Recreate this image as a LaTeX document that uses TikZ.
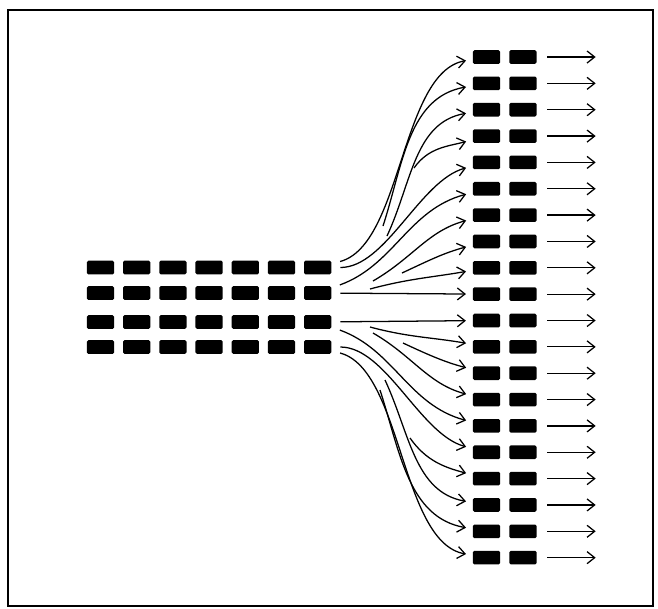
\documentclass[tikz,border=0pt]{standalone}
\usetikzlibrary{arrows.meta,positioning}

\begin{document}
\begin{tikzpicture}[x=0.025cm, y=-0.025cm, line width=0.9pt,
    >={Straight Barb[length=1.9mm,width=3mm]},
    blk/.style={fill=black, minimum width=0.68cm, minimum height=0.34cm,
                inner sep=0pt, rounded corners=1pt},
    link/.style={->, shorten >=4.5pt},
    src/.style={shorten <=6pt}]
         \useasboundingbox (0,0) rectangle (658,608);
         \draw[line width=1.6pt] (8,10) rectangle (653,606);  %frame

         % left block, 4 rows of 7
         \foreach \r/\y in {1/267.5, 2/293, 3/322, 4/347}
           \foreach \c in {1,...,7}
             \node[blk] (l-\r-\c) at ({100.5+36.2*(\c-1)},\y) {};

         % right block, 20 rows of 2, each with its outgoing arrow
         \foreach \r in {1,...,20} {
           \node[blk] (r-\r-1) at (486.5,{57+26.35*(\r-1)}) {};
           \node[blk] (r-\r-2) [right=0.2cm of r-\r-1] {};
           \coordinate (o-\r) at (602,{57+26.35*(\r-1)});
           \draw[link] ([xshift=0.25cm]r-\r-2.east) -- (o-\r);
         }

         % split points
         \coordinate (s2) at (383,226);
         \coordinate (s3) at (387,236);
         \coordinate (s4) at (414,168);
         \coordinate (s7) at (373,281);
         \coordinate (s8) at (402,273);
         \coordinate (s9) at (370,289);
         \coordinate (s12) at (370,327);
         \coordinate (s13) at (403,343);
         \coordinate (s14) at (373,333);
         \coordinate (s17) at (410,438);
         \coordinate (s18) at (385,380);
         \coordinate (s19) at (380,390);

         \path[link]
         (l-1-7) edge [src, out=15, in=190, looseness=0.75] (r-1-1)
         (s2) edge [out=72, in=190] (r-2-1)
         (s3) edge [out=65, in=190] (r-3-1)
         (s4) edge [out=55, in=195] (r-4-1)
         (l-1-7) edge [src, out=0, in=195, looseness=0.8] (r-5-1)
         (l-2-7) edge [src, out=20, in=195] (r-6-1)
         (s7) edge [out=30, in=195] (r-7-1)
         (s8) edge [out=25, in=195] (r-8-1)
         (s9) edge [out=15, in=190] (r-9-1)
         (l-2-7) edge [src] (r-10-1)
         (l-3-7) edge [src] (r-11-1)
         (s12) edge [out=-15, in=170] (r-12-1)
         (s13) edge [out=-25, in=165] (r-13-1)
         (s14) edge [out=-30, in=165] (r-14-1)
         (l-3-7) edge [src, out=-20, in=165] (r-15-1)
         (l-4-7) edge [src, out=0, in=165, looseness=0.8] (r-16-1)
         (s17) edge [out=-55, in=165] (r-17-1)
         (s18) edge [out=-65, in=170] (r-18-1)
         (s19) edge [out=-72, in=170] (r-19-1)
         (l-4-7) edge [src, out=-15, in=170, looseness=0.75] (r-20-1);
\end{tikzpicture}
\end{document}
